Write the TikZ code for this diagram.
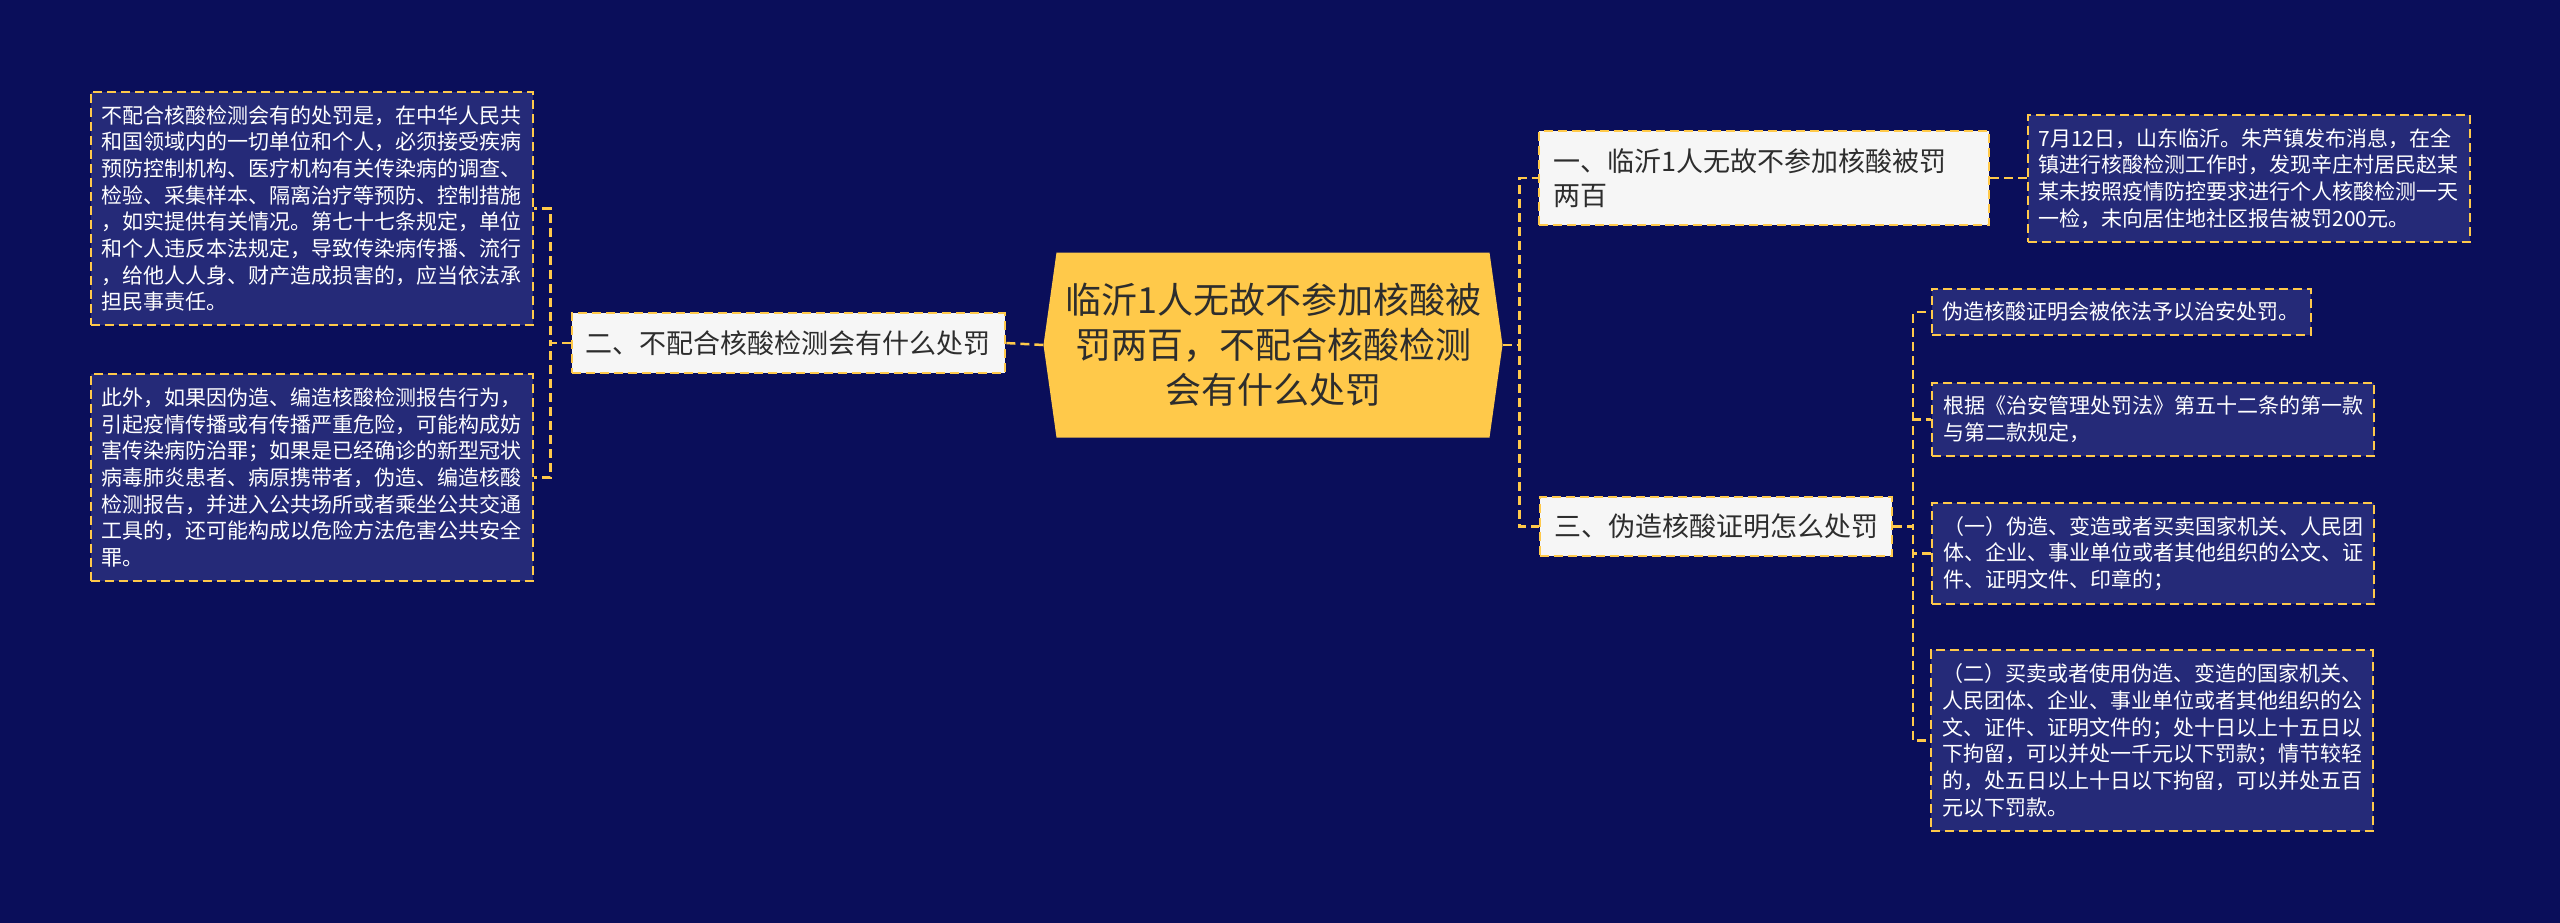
\documentclass[tikz,border=0pt]{standalone}
\usepackage{fontspec}
\setmainfont{Noto Sans CJK SC}
\usepackage{xcolor}
\usepackage{tikz}
\usetikzlibrary{shapes.symbols}
\definecolor{pagebg}{RGB}{10, 14, 90}
\definecolor{leafbg}{RGB}{37, 42, 120}
\definecolor{linegold}{RGB}{255, 201, 74}
\definecolor{branchbg}{RGB}{246, 246, 246}
\definecolor{branchtext}{RGB}{45, 45, 45}

\begin{document}
\begin{tikzpicture}[x=1pt, y=-1pt,
    link/.style={draw=linegold, line width=2.5pt, dash pattern=on 9pt off 5pt},
    rootbox/.style={shape=signal, signal to=west and east, signal pointer angle=164,
        fill=linegold, text=branchtext, minimum width=459pt, minimum height=185pt,
        inner sep=0pt, align=center, font=\fontsize{36}{45}\selectfont},
    branchbox/.style={draw=linegold, line width=2pt, dash pattern=on 9pt off 5pt,
        fill=branchbg, text=branchtext, inner xsep=14pt, inner ysep=17pt,
        align=left, font=\fontsize{27}{34.5}\selectfont},
    leafbox/.style={draw=linegold, line width=2pt, dash pattern=on 9pt off 5pt,
        fill=leafbg, text=white, text width=420pt, inner xsep=11pt, inner ysep=13.5pt,
        align=left, font=\fontsize{21}{26.7}\selectfont}]
    % page
    \fill[pagebg] (0,0) rectangle (2560,923);
    \useasboundingbox (0,0) rectangle (2560,923);

    % centre topic
    \node[rootbox] (root) at (1273,345) {临沂1人无故不参加核酸被\\罚两百，不配合核酸检测\\会有什么处罚};

    % left branch and its notes
    \node[branchbox] (fine) at (788,343) {二、不配合核酸检测会有什么处罚};
    \node[leafbox] (law) at (311.5,208.5) {不配合核酸检测会有的处罚是，在中华人民共\\和国领域内的一切单位和个人，必须接受疾病\\预防控制机构、医疗机构有关传染病的调查、\\检验、采集样本、隔离治疗等预防、控制措施\\，如实提供有关情况。第七十七条规定，单位\\和个人违反本法规定，导致传染病传播、流行\\，给他人人身、财产造成损害的，应当依法承\\担民事责任。};
    \node[leafbox] (crime) at (311.5,477.5) {此外，如果因伪造、编造核酸检测报告行为，\\引起疫情传播或有传播严重危险，可能构成妨\\害传染病防治罪；如果是已经确诊的新型冠状\\病毒肺炎患者、病原携带者，伪造、编造核酸\\检测报告，并进入公共场所或者乘坐公共交通\\工具的，还可能构成以危险方法危害公共安全\\罪。};

    % right branches
    \node[branchbox, text width=422pt] (news) at (1764,178) {一、临沂1人无故不参加核酸被罚\\两百};
    \node[branchbox] (forge) at (1716,526.5) {三、伪造核酸证明怎么处罚};

    \node[leafbox] (story) at (2248.5,178.5) {7月12日，山东临沂。朱芦镇发布消息，在全\\镇进行核酸检测工作时，发现辛庄村居民赵某\\某未按照疫情防控要求进行个人核酸检测一天\\一检，未向居住地社区报告被罚200元。};
    \node[leafbox, text width=357pt] (ruleA) at (2121,312) {伪造核酸证明会被依法予以治安处罚。};
    \node[leafbox] (ruleB) at (2153,419.5) {根据《治安管理处罚法》第五十二条的第一款\\与第二款规定，};
    \node[leafbox] (ruleC) at (2153,553.5) {（一）伪造、变造或者买卖国家机关、人民团\\体、企业、事业单位或者其他组织的公文、证\\件、证明文件、印章的；};
    \node[leafbox] (ruleD) at (2152,740.5) {（二）买卖或者使用伪造、变造的国家机关、\\人民团体、企业、事业单位或者其他组织的公\\文、证件、证明文件的；处十日以上十五日以\\下拘留，可以并处一千元以下罚款；情节较轻\\的，处五日以上十日以下拘留，可以并处五百\\元以下罚款。};

    % connectors
    \draw[link] (root.west) -- (fine.east);
    \draw[link] (fine.west) -- ++(-20,0) |- (law.east);
    \draw[link] (fine.west) -- ++(-20,0) |- (crime.east);
    \draw[link] (root.east) -- ++(17,0) |- (news.west);
    \draw[link] (root.east) -- ++(17,0) |- (forge.west);
    \draw[link] (news.east) -- (news.east -| story.west);
    \foreach \leaf in {ruleA, ruleB, ruleC, ruleD}
        \draw[link] (forge.east) -- ++(20,0) |- (\leaf.west);
\end{tikzpicture}
\end{document}
